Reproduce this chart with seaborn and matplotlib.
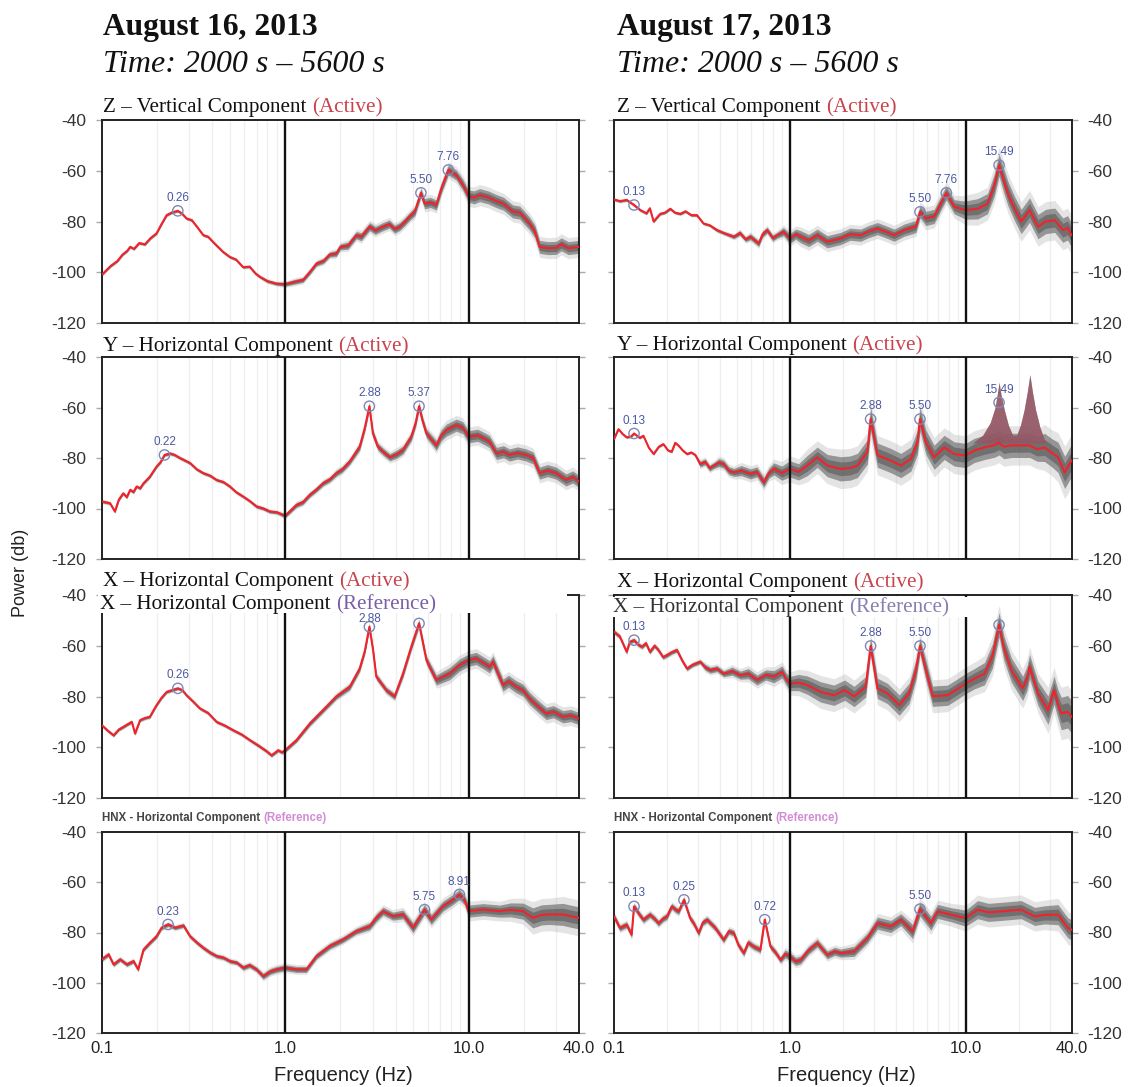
import numpy as np
import matplotlib
matplotlib.use("Agg")
import matplotlib.pyplot as plt
import seaborn as sns
from matplotlib.patches import Rectangle
from matplotlib.text import Annotation
from matplotlib.ticker import NullLocator

# ---------------- data: (frequency Hz, power dB, spread dB) ----------------
Z16 = [(0.100,-101.0,0.6),(0.112,-97.5,0.6),(0.122,-95.5,0.6),(0.130,-93.0,0.6),(0.138,-91.5,0.6),
       (0.143,-90.0,0.6),(0.150,-90.8,0.6),(0.160,-88.5,0.6),(0.172,-89.0,0.6),(0.185,-86.5,0.6),
       (0.199,-84.7,0.6),(0.212,-81.0,0.6),(0.226,-77.5,0.6),(0.240,-76.5,0.6),(0.26,-75.8,0.6),
       (0.275,-77.0,0.6),(0.290,-78.8,0.6),(0.310,-79.5,0.6),(0.330,-82.0,0.6),(0.358,-85.4,0.6),
       (0.380,-86.0,0.6),(0.410,-88.5,0.6),(0.459,-92.0,0.6),(0.500,-94.0,0.6),(0.540,-95.0,0.6),
       (0.590,-98.0,0.6),(0.640,-97.8,0.6),(0.690,-100.5,0.7),(0.728,-101.8,0.7),(0.800,-103.5,0.8),
       (0.897,-104.5,0.8),(1.0,-104.7,1.0),(1.12,-103.8,1.2),(1.253,-103.0,1.2),(1.36,-100.0,1.2),
       (1.482,-96.6,1.2),(1.62,-95.5,1.3),(1.75,-93.0,1.3),(1.901,-92.6,1.5),(2.0,-90.0,1.5),
       (2.2,-89.5,1.8),(2.444,-85.4,1.8),(2.6,-86.0,2.0),(2.89,-82.0,2.0),(3.1,-83.5,2.0),
       (3.42,-82.0,2.0),(3.7,-81.0,2.0),(3.95,-83.0,2.0),(4.21,-82.0,2.0),(4.5,-80.0,2.0),
       (4.77,-78.0,2.0),(5.1,-76.0,2.2),(5.50,-68.7,2.2),(5.76,-73.0,2.5),(6.2,-72.5,2.5),
       (6.67,-73.5,2.5),(7.1,-67.0,2.5),(7.76,-59.7,2.5),(8.57,-61.7,2.5),(9.3,-65.5,2.8),
       (10.0,-70.0,3.0),(10.7,-70.5,3.2),(11.5,-69.6,3.2),(12.8,-70.5,3.2),(14.2,-72.0,3.2),
       (15.5,-73.0,3.2),(17.4,-76.0,3.2),(19.0,-76.5,3.2),(21.5,-80.8,3.2),(23.0,-84.0,3.2),
       (24.4,-90.0,3.2),(27.0,-90.5,3.2),(30.0,-90.4,3.2),(32.0,-89.0,3.2),(35.0,-90.5,3.2),
       (40.0,-90.0,3.2)]

Z17 = [(0.100,-71.3,0.6),(0.108,-72.0,0.6),(0.118,-71.5,0.6),(0.13,-73.5,0.6),(0.141,-75.5,0.6),
       (0.153,-76.8,0.6),(0.160,-74.8,0.6),(0.168,-80.0,0.6),(0.183,-77.0,0.6),(0.195,-76.5,0.6),
       (0.209,-75.0,0.6),(0.222,-76.5,0.6),(0.238,-77.0,0.6),(0.255,-76.0,0.6),(0.275,-77.5,0.6),
       (0.296,-77.5,0.6),(0.323,-80.8,0.6),(0.350,-81.5,0.6),(0.385,-83.4,0.8),(0.420,-84.5,0.8),
       (0.480,-86.0,1.0),(0.520,-84.5,1.2),(0.560,-87.0,1.2),(0.597,-86.0,1.5),(0.665,-88.7,1.5),
       (0.700,-85.0,1.5),(0.743,-83.4,1.5),(0.800,-86.5,1.5),(0.847,-85.4,1.5),(0.920,-84.0,2.0),
       (1.0,-86.7,2.5),(1.08,-85.0,2.5),(1.151,-86.0,3.0),(1.28,-87.5,3.0),(1.432,-85.4,3.0),
       (1.633,-88.0,3.0),(1.945,-86.7,3.0),(2.2,-85.0,3.0),(2.53,-85.4,3.0),(2.8,-84.0,3.0),
       (3.15,-82.8,3.0),(3.5,-84.0,3.0),(3.92,-85.4,3.0),(4.47,-83.4,3.0),(5.21,-82.0,3.0),
       (5.50,-76.2,3.0),(5.94,-78.8,3.5),(6.62,-78.0,3.5),(7.2,-73.0,3.5),(7.76,-68.7,3.5),
       (8.61,-74.2,3.5),(9.40,-75.0,4.0),(10.0,-75.5,4.5),(11.7,-75.0,5.0),(13.3,-73.0,5.0),
       (14.5,-66.0,5.5),(15.49,-57.8,5.5),(16.5,-64.0,6.0),(17.4,-69.0,6.0),(19.0,-75.0,6.0),
       (20.7,-80.0,6.0),(23.1,-75.5,6.0),(25.8,-82.0,6.0),(28.5,-80.0,6.0),(32.1,-79.5,6.0),
       (35.7,-83.4,6.0),(38.0,-82.5,6.0),(40.0,-85.4,6.0)]

Y16 = [(0.100,-97.2,0.7),(0.111,-97.9,0.7),(0.118,-101.2,0.7),(0.124,-96.5,0.7),(0.131,-94.0,0.7),
       (0.137,-95.5,0.7),(0.143,-92.6,0.7),(0.149,-93.5,0.7),(0.155,-91.3,0.7),(0.162,-92.0,0.7),
       (0.169,-90.0,0.7),(0.183,-87.4,0.7),(0.199,-83.4,0.7),(0.210,-81.5,0.7),(0.22,-78.8,0.7),
       (0.236,-78.2,0.7),(0.250,-78.8,0.7),(0.267,-80.0,0.7),(0.303,-82.0,0.7),(0.330,-84.5,0.7),
       (0.358,-86.0,0.7),(0.390,-87.0,0.7),(0.423,-88.7,0.7),(0.460,-89.5,0.7),(0.500,-91.3,0.7),
       (0.540,-93.5,0.7),(0.591,-95.3,0.7),(0.640,-97.0,0.7),(0.698,-99.2,0.8),(0.760,-100.0,0.8),
       (0.826,-101.2,0.8),(0.900,-101.5,0.8),(1.0,-102.9,1.0),(1.153,-98.6,1.2),(1.25,-97.5,1.2),
       (1.362,-94.6,1.2),(1.48,-92.5,1.2),(1.610,-90.0,1.3),(1.75,-88.5,1.3),(1.903,-86.0,1.5),
       (2.05,-84.5,1.5),(2.25,-81.4,1.5),(2.55,-75.5,1.8),(2.72,-68.0,1.8),(2.88,-59.5,1.8),
       (3.01,-70.3,1.8),(3.20,-75.5,1.8),(3.42,-77.5,1.8),(3.72,-79.7,1.8),(4.05,-78.5,2.0),
       (4.39,-76.8,2.0),(4.87,-71.6,2.0),(5.15,-66.0,2.0),(5.37,-59.5,2.0),(5.60,-65.0,2.0),
       (5.89,-70.3,2.2),(6.67,-75.0,2.5),(7.10,-71.0,2.8),(7.55,-69.0,3.0),(8.57,-67.0,3.0),
       (9.30,-68.0,3.0),(10.0,-71.6,3.0),(11.2,-71.0,3.0),(12.3,-72.5,3.0),(13.0,-73.5,3.0),
       (14.2,-78.2,3.0),(15.5,-77.5,3.0),(16.7,-78.8,3.0),(18.5,-78.0,3.0),(20.6,-78.8,3.0),
       (22.5,-80.0,3.0),(24.4,-86.0,3.0),(27.0,-85.0,3.0),(30.0,-86.0,3.0),(34.0,-88.7,3.0),
       (37.0,-87.5,3.0),(40.0,-89.3,3.0)]

Y17 = [(0.100,-72.5,0.5),(0.106,-68.6,0.5),(0.112,-70.5,0.5),(0.118,-71.8,0.5),(0.125,-71.5,0.5),
       (0.13,-70.3,0.5),(0.140,-72.0,0.5),(0.147,-71.2,0.5),(0.158,-76.0,0.5),(0.168,-78.4,0.5),
       (0.180,-75.5,0.5),(0.191,-74.5,0.5),(0.203,-77.0,0.5),(0.213,-77.5,0.5),(0.223,-74.0,0.5),
       (0.233,-75.1,0.5),(0.246,-77.0,0.5),(0.260,-78.4,0.5),(0.275,-77.8,0.5),(0.290,-78.8,0.5),
       (0.309,-82.4,1.5),(0.330,-81.5,1.5),(0.350,-84.0,1.5),(0.369,-83.0,1.5),(0.395,-81.8,2.0),
       (0.420,-82.4,2.0),(0.450,-85.0,2.0),(0.480,-85.7,2.0),(0.530,-85.0,2.5),(0.597,-86.3,2.5),
       (0.650,-85.5,2.5),(0.711,-89.6,2.5),(0.760,-86.0,2.5),(0.811,-84.3,3.0),(0.900,-86.0,3.5),
       (1.0,-84.3,4.0),(1.12,-85.5,4.0),(1.256,-83.0,5.0),(1.432,-79.7,5.0),(1.633,-83.0,5.5),
       (1.945,-84.3,6.0),(2.2,-84.0,6.0),(2.42,-83.0,6.0),(2.76,-77.6,6.0),(2.88,-64.6,6.0),
       (3.15,-78.9,6.0),(3.75,-81.0,6.0),(4.28,-83.0,6.0),(4.88,-80.4,6.0),(5.32,-73.8,6.0),
       (5.50,-64.6,6.0),(5.94,-73.8,6.0),(6.62,-79.7,6.0),(7.55,-75.8,6.0),(8.61,-78.4,6.0),
       (10.0,-79.0,6.0),(11.2,-77.0,6.0),(12.8,-75.8,6.0),(14.6,-74.9,6.0),(15.49,-74.0,6.0),
       (16.5,-75.5,6.0),(18.2,-75.0,6.0),(20.7,-75.0,6.0),(23.1,-75.0,6.0),(25.5,-76.5,6.0),
       (28.1,-75.8,7.0),(31.0,-78.0,7.0),(33.5,-79.7,7.5),(36.6,-85.7,8.0),(40.0,-81.0,8.0)]

# spiky overlay of the Y component, Aug 17 (frequency Hz, upper dB)
Y17_SPIKE = [(11.0,-74),(12.5,-71),(13.8,-66),(14.7,-60),(15.2,-54),(15.49,-50),(15.9,-55),
             (16.6,-61),(17.5,-67),(18.5,-71),(19.5,-71),(20.5,-67),(21.5,-61),(22.4,-54),
             (23.2,-47),(24.0,-54),(25.0,-61),(26.5,-68),(28.5,-74)]

X16 = [(0.100,-91.3,0.7),(0.108,-93.5,0.7),(0.116,-95.3,0.7),(0.124,-93.0,0.7),(0.131,-92.0,0.7),
       (0.138,-91.0,0.7),(0.146,-90.0,0.7),(0.152,-94.6,0.7),(0.162,-89.3,0.7),(0.172,-88.5,0.7),
       (0.183,-88.0,0.7),(0.199,-83.4,0.7),(0.212,-80.5,0.7),(0.226,-78.2,0.7),(0.242,-77.5,0.7),
       (0.26,-76.8,0.7),(0.275,-77.5,0.7),(0.290,-79.5,0.7),(0.315,-82.0,0.7),(0.343,-84.7,0.7),
       (0.380,-86.5,0.7),(0.423,-90.0,0.7),(0.470,-91.5,0.7),(0.521,-93.3,0.7),(0.580,-95.0,0.7),
       (0.642,-97.2,0.7),(0.720,-99.5,0.8),(0.790,-101.5,0.8),(0.843,-103.2,0.8),(0.916,-101.2,0.8),
       (0.960,-102.0,0.8),(1.0,-101.2,1.0),(1.153,-97.2,1.0),(1.362,-90.7,1.2),(1.610,-85.4,1.2),
       (1.903,-80.0,1.3),(2.25,-76.2,1.5),(2.55,-69.0,1.5),(2.72,-62.0,1.5),(2.88,-52.5,1.5),
       (3.02,-62.0,1.5),(3.14,-72.2,1.5),(3.56,-77.5,1.5),(3.95,-80.0,1.5),(4.39,-71.0,1.8),
       (4.87,-60.4,1.8),(5.37,-51.2,1.8),(5.89,-65.7,2.0),(6.67,-73.5,2.5),(7.88,-71.0,3.0),
       (8.93,-67.6,3.0),(10.0,-65.7,3.0),(11.0,-65.0,3.0),(12.2,-67.0,3.0),(13.0,-68.3,3.0),
       (13.6,-66.3,3.0),(15.4,-75.5,3.0),(16.5,-74.0,3.0),(18.2,-76.2,3.0),(19.8,-77.5,3.0),
       (21.5,-80.8,3.0),(24.0,-84.0,3.0),(26.5,-86.7,3.0),(29.0,-86.0,3.0),(32.7,-88.0,3.0),
       (36.0,-87.5,3.0),(40.0,-88.7,3.0)]

X17 = [(0.100,-54.5,1.0),(0.108,-56.4,1.0),(0.118,-62.4,1.0),(0.123,-58.5,1.0),(0.13,-57.8,1.0),
       (0.137,-59.5,1.0),(0.144,-60.4,1.0),(0.152,-59.0,1.0),(0.160,-62.4,1.0),(0.170,-60.0,1.0),
       (0.179,-61.7,1.0),(0.190,-64.5,1.0),(0.200,-63.7,1.0),(0.214,-62.5,1.0),(0.228,-61.7,1.0),
       (0.245,-66.0,1.0),(0.260,-69.0,1.0),(0.280,-67.5,1.0),(0.309,-66.3,1.0),(0.330,-68.5,1.5),
       (0.353,-69.6,1.5),(0.385,-69.0,1.5),(0.420,-71.0,1.5),(0.470,-70.0,2.0),(0.523,-71.6,2.0),
       (0.580,-71.0,2.5),(0.651,-73.5,2.5),(0.730,-71.5,2.5),(0.811,-72.2,3.0),(0.904,-70.3,3.0),
       (0.950,-73.0,3.0),(1.0,-74.9,3.5),(1.12,-74.5,4.0),(1.256,-75.5,4.5),(1.496,-78.2,5.0),
       (1.782,-79.5,5.0),(2.05,-77.5,5.0),(2.32,-80.0,5.0),(2.70,-76.2,5.0),(2.88,-60.1,4.0),
       (3.15,-76.8,5.0),(3.59,-78.8,5.0),(4.19,-83.4,5.0),(4.77,-78.8,5.0),(5.21,-69.6,5.0),
       (5.50,-60.1,4.0),(5.94,-69.6,5.0),(6.49,-79.9,5.0),(7.89,-79.5,5.0),(9.0,-77.0,5.0),
       (10.0,-74.9,5.0),(11.2,-73.0,5.0),(12.8,-71.0,5.5),(14.2,-64.0,6.0),(15.49,-51.8,6.0),
       (16.5,-61.0,6.0),(18.2,-69.6,6.0),(21.1,-76.8,6.0),(22.3,-73.0,6.0),(23.1,-68.3,6.0),
       (24.5,-74.0,6.0),(25.8,-78.8,6.0),(29.4,-85.4,7.0),(31.8,-77.5,7.0),(33.5,-83.0,7.0),
       (35.0,-86.7,8.0),(38.0,-86.0,8.0),(40.0,-88.0,8.0)]

N16 = [(0.100,-90.7,1.0),(0.109,-88.7,1.0),(0.116,-92.7,1.0),(0.126,-90.7,1.0),(0.137,-92.7,1.0),
       (0.149,-91.4,1.0),(0.158,-94.7,1.0),(0.169,-86.8,1.0),(0.183,-84.1,1.0),(0.199,-81.5,1.0),
       (0.212,-78.1,1.0),(0.23,-76.8,1.0),(0.251,-78.1,1.0),(0.279,-77.2,1.0),(0.303,-81.5,1.0),
       (0.330,-84.0,1.0),(0.358,-86.1,1.0),(0.390,-88.0,1.0),(0.423,-89.4,1.0),(0.460,-90.0,1.0),
       (0.500,-91.4,1.0),(0.545,-92.0,1.0),(0.591,-94.0,1.2),(0.640,-93.0,1.2),(0.698,-94.7,1.2),
       (0.759,-97.4,1.5),(0.830,-95.5,1.5),(0.897,-94.7,1.5),(1.0,-94.0,1.5),(1.153,-94.7,1.5),
       (1.306,-94.7,1.5),(1.482,-89.4,1.5),(1.751,-85.4,1.5),(2.07,-82.8,1.5),(2.44,-79.5,1.5),
       (2.89,-77.5,1.8),(3.15,-74.0,2.0),(3.42,-71.5,2.0),(3.87,-73.5,2.0),(4.39,-72.8,2.2),
       (4.98,-78.1,2.5),(5.75,-70.9,2.5),(6.26,-74.8,2.5),(7.25,-69.5,2.5),(8.22,-66.9,2.5),
       (8.91,-64.9,2.5),(9.5,-67.0,2.5),(10.0,-71.5,3.0),(12.0,-70.9,3.0),(14.8,-71.5,3.0),
       (17.0,-71.0,3.5),(19.8,-71.5,4.0),(22.4,-74.2,5.0),(25.0,-73.0,5.0),(27.6,-72.8,5.0),
       (32.7,-72.8,5.5),(36.0,-73.5,5.5),(40.0,-74.2,5.5)]

N17 = [(0.100,-73.6,1.5),(0.108,-78.2,1.5),(0.118,-76.9,1.5),(0.126,-80.9,1.5),(0.13,-69.6,1.5),
       (0.140,-73.0,1.5),(0.147,-74.9,1.5),(0.160,-72.9,1.5),(0.170,-74.5,1.5),(0.179,-76.3,1.5),
       (0.190,-74.5,1.5),(0.200,-73.6,1.5),(0.213,-69.6,1.5),(0.225,-71.0,1.5),(0.233,-71.6,1.5),
       (0.25,-67.0,1.5),(0.271,-74.3,1.5),(0.285,-76.5,1.5),(0.303,-80.2,1.5),(0.320,-76.0,1.5),
       (0.338,-74.9,1.5),(0.377,-78.2,1.5),(0.420,-82.9,1.5),(0.450,-79.5,1.5),(0.480,-80.2,1.5),
       (0.510,-85.0,1.5),(0.547,-88.2,1.5),(0.580,-84.0,1.5),(0.623,-85.6,1.5),(0.680,-86.9,1.5),
       (0.72,-74.9,1.5),(0.776,-85.6,1.5),(0.830,-88.0,1.5),(0.885,-90.9,1.5),(0.940,-88.5,2.0),
       (1.0,-89.5,2.0),(1.08,-91.5,2.0),(1.151,-90.9,2.0),(1.28,-87.0,2.0),(1.432,-84.2,2.0),
       (1.633,-88.9,2.0),(1.80,-87.5,2.0),(1.945,-88.2,2.0),(2.32,-87.5,2.5),(2.76,-82.2,2.5),
       (3.15,-76.3,3.0),(3.75,-77.6,3.0),(4.28,-74.9,3.0),(4.99,-79.6,3.5),(5.50,-70.7,3.5),
       (6.34,-76.3,3.5),(6.92,-71.6,3.5),(8.24,-72.9,3.5),(10.0,-74.3,4.0),(11.7,-70.9,4.5),
       (13.5,-72.0,4.5),(15.9,-71.6,4.5),(20.7,-70.9,4.5),(24.7,-73.6,4.5),(28.0,-73.0,4.5),
       (33.5,-72.9,5.0),(38.2,-78.2,5.0),(40.0,-78.9,5.0)]

# peaks: (frequency Hz, power dB, label)
Z16_PEAKS = [(0.26,-75.8,"0.26"),(5.50,-68.7,"5.50"),(7.76,-59.7,"7.76")]
Z17_PEAKS = [(0.13,-73.5,"0.13"),(5.50,-76.2,"5.50"),(7.76,-68.7,"7.76"),(15.49,-57.8,"15.49")]
Y16_PEAKS = [(0.22,-78.8,"0.22"),(2.88,-59.5,"2.88"),(5.37,-59.5,"5.37")]
Y17_PEAKS = [(0.13,-70.3,"0.13"),(2.88,-64.6,"2.88"),(5.50,-64.6,"5.50"),(15.49,-58.0,"15.49")]
X16_PEAKS = [(0.26,-76.8,"0.26"),(2.88,-52.5,"2.88"),(5.37,-51.2,"")]
X17_PEAKS = [(0.13,-57.8,"0.13"),(2.88,-60.1,"2.88"),(5.50,-60.1,"5.50"),(15.49,-51.8,"")]
N16_PEAKS = [(0.23,-76.8,"0.23"),(5.75,-70.9,"5.75"),(8.91,-64.9,"8.91")]
N17_PEAKS = [(0.13,-69.6,"0.13"),(0.25,-67.0,"0.25"),(0.72,-74.9,"0.72"),(5.50,-70.7,"5.50")]

X_TICKS = [0.1, 1.0, 10.0, 40.0]
X_TICK_LABELS = ["0.1", "1.0", "10.0", "40.0"]
Y_TICKS = [-120, -100, -80, -60, -40]
MINOR_F = [0.2,0.3,0.4,0.5,0.6,0.7,0.8,0.9,2,3,4,5,6,7,8,9,20,30]

DATES = ["August 16, 2013", "August 17, 2013"]
TIME_TXT = "Time: 2000 s \u2013 5600 s"

# ---------------- style ----------------
sns.set_theme(style="white")
plt.rcParams["font.family"] = ["Liberation Sans", "DejaVu Sans"]
SERIF = ["Liberation Serif", "DejaVu Serif"]
SANS = ["Liberation Sans", "DejaVu Sans"]
RED = "#f2222a"
ACTIVE = "#c9434d"
REFP = "#7a5fa8"
REFPINK = "#d38cd3"
PEAKC = "#4b58a0"

W, H = 1146, 1087
fig = plt.figure(figsize=(W / 100, H / 100), dpi=100)
fig.patch.set_facecolor("white")

COLS = [(101.7, 579.0), (614.0, 1071.5)]
ROWS = [(120, 323), (357, 559), (595, 798), (832, 1033)]

panels = [[(Z16, Z16_PEAKS), (Z17, Z17_PEAKS)],
          [(Y16, Y16_PEAKS), (Y17, Y17_PEAKS)],
          [(X16, X16_PEAKS), (X17, X17_PEAKS)],
          [(N16, N16_PEAKS), (N17, N17_PEAKS)]]


def fx(px):
    return px / W


def fy(py):
    return 1 - py / H


for r in range(4):
    for c in range(2):
        data, peaks = panels[r][c]
        x0, x1 = COLS[c]
        y0, y1 = ROWS[r]
        ax = fig.add_axes([fx(x0), fy(y1), (x1 - x0) / W, (y1 - y0) / H])
        ax.set_xscale("log")
        f, p, s = (np.array(v, dtype=float) for v in zip(*data))
        for v in MINOR_F:
            ax.axvline(v, color="#efefef", lw=0.9, zorder=0)
        ax.fill_between(f, p - 1.3 * s, p + 1.3 * s, color="#a8a8a8", alpha=0.30, lw=0, zorder=1)
        ax.fill_between(f, p - 0.8 * s, p + 0.8 * s, color="#555555", alpha=0.55, lw=0, zorder=1)
        ax.fill_between(f, p - 0.45 * s, p + 0.45 * s, color="#444444", alpha=0.45, lw=0, zorder=1)
        if r == 1 and c == 1:
            sf, sh = (np.array(v, dtype=float) for v in zip(*Y17_SPIKE))
            ax.fill_between(sf, -74, sh, color="#6a6a6a", alpha=0.85, lw=0, zorder=1.5)
            ax.fill_between(sf, -74, sh, color="#b04a62", alpha=0.55, lw=0, zorder=1.6)
        sns.lineplot(x=f, y=p, ax=ax, color=RED, lw=1.5, estimator=None, sort=False, zorder=3)
        # the X panel of Aug 16 has its peak labels squeezed under the second title
        off = 1.5 if (r == 2 and c == 0) else 5
        for pf, pv, lab in peaks:
            ax.scatter([pf], [pv], s=55, facecolors="none", edgecolors="#7f88b5", linewidths=1.0, zorder=4)
            if lab:
                o = off if pv > -55 else 5
                ax.annotate(lab, (pf, pv), xytext=(0, o), textcoords="offset points", ha="center",
                            va="bottom", fontsize=8.5, color=PEAKC, family=SANS, zorder=5)
        ax.axvline(1.0, color="#111111", lw=1.7, zorder=4)
        ax.axvline(10.0, color="#111111", lw=1.7, zorder=4)
        ax.set_xlim(0.1, 40)
        ax.set_ylim(-120, -40)
        ax.set_xticks(X_TICKS)
        ax.xaxis.set_minor_locator(NullLocator())
        ax.set_yticks(Y_TICKS)
        ax.set_xlabel("")
        ax.set_ylabel("")
        if r == 3:
            ax.set_xticklabels(X_TICK_LABELS)
            ax.tick_params(axis="x", length=0, pad=6, labelsize=12, labelcolor="#222222")
        else:
            ax.tick_params(axis="x", length=0, labelbottom=False)
        ax.set_yticklabels([str(v) for v in Y_TICKS])
        ax.tick_params(axis="y", direction="out", length=4, width=1, color="#aaaaaa",
                       left=True, right=True, labelleft=(c == 0), labelright=(c == 1),
                       labelsize=12.5, labelcolor="#333333", pad=7)
        for sp in ax.spines.values():
            sp.set_color("#222222")
            sp.set_linewidth(1.4)
            sp.set_visible(True)
        ax.grid(False)

# white boxes behind the second titles of row 3
fig.add_artist(Rectangle((fx(98), fy(613)), (567 - 98) / W, (613 - 589) / H,
                         transform=fig.transFigure, facecolor="white", edgecolor="none", zorder=2))
fig.add_artist(Rectangle((fx(610), fy(617)), (968 - 610) / W, (617 - 597) / H,
                         transform=fig.transFigure, facecolor="white", edgecolor="none", zorder=2))


def title(xp, yp, parts, size, family, weight="normal", gap=4):
    t = fig.text(fx(xp), fy(yp), parts[0][0], color=parts[0][1], fontsize=size, family=family,
                 weight=weight, va="baseline", ha="left", zorder=3)
    prev = t
    for txt, col in parts[1:]:
        a = Annotation(txt, xy=(1, 0), xycoords=prev, xytext=(gap, 0), textcoords="offset points",
                       va="bottom", ha="left", color=col, fontsize=size, family=family, weight=weight,
                       zorder=3)
        fig.add_artist(a)
        prev = a


# headers
for c, xp in enumerate([103, 617]):
    fig.text(fx(xp), fy(35), DATES[c], fontsize=22.7, family=SERIF, weight="bold",
             va="baseline", ha="left", color="#111111")
    fig.text(fx(xp), fy(72), TIME_TXT, fontsize=23, family=SERIF, style="italic",
             va="baseline", ha="left", color="#111111")

TS = 15.2
title(103, 112, [("Z \u2013 Vertical Component", "#111111"), ("(Active)", ACTIVE)], TS, SERIF)
title(617, 112, [("Z \u2013 Vertical Component", "#111111"), ("(Active)", ACTIVE)], TS, SERIF)
title(103, 351, [("Y \u2013 Horizontal Component", "#111111"), ("(Active)", ACTIVE)], TS, SERIF)
title(617, 350, [("Y \u2013 Horizontal Component", "#111111"), ("(Active)", ACTIVE)], TS, SERIF)
title(103, 586, [("X \u2013 Horizontal Component", "#111111"), ("(Active)", ACTIVE)], TS, SERIF)
title(100, 609, [("X \u2013 Horizontal Component", "#111111"), ("(Reference)", REFP)], TS, SERIF)
title(617, 587, [("X \u2013 Horizontal Component", "#111111"), ("(Active)", ACTIVE)], TS, SERIF)
title(613, 612, [("X \u2013 Horizontal Component", "#333333"), ("(Reference)", "#8a7fb0")], TS, SERIF)
title(102, 821, [("HNX - Horizontal Component", "#444444"), ("(Reference)", REFPINK)], 8.3, SANS,
      weight="bold", gap=2)
title(614, 821, [("HNX - Horizontal Component", "#444444"), ("(Reference)", REFPINK)], 8.3, SANS,
      weight="bold", gap=2)

# axis labels
fig.text(fx(21), fy(573), "Power (db)", rotation=90, fontsize=13, family=SANS,
         ha="center", va="center", color="#222222")
for xc in [343, 846]:
    fig.text(fx(xc), fy(1081), "Frequency (Hz)", fontsize=14.5, family=SANS,
             ha="center", va="baseline", color="#222222")

fig.savefig("out.png", dpi=100, facecolor="white")
